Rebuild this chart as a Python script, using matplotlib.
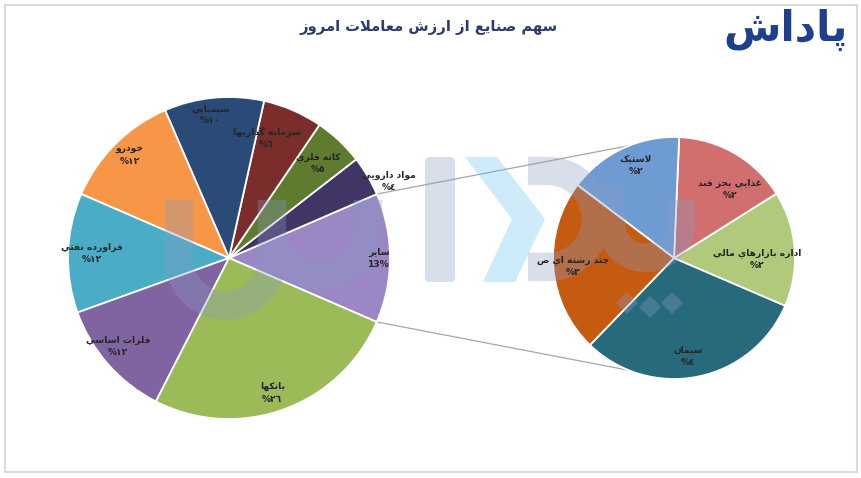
import unicodedata

import numpy as np
import matplotlib
matplotlib.use("Agg")
import matplotlib.pyplot as plt
from matplotlib.patches import Rectangle, PathPatch, Polygon, FancyBboxPatch
from matplotlib.path import Path

# ---- data -------------------------------------------------------------
main_labels = ["سایر", "مواد دارويي", "کانه فلزي", "سرمايه گذاريها", "شيميايي",
               "خودرو", "فراورده نفتي", "فلزات اساسي", "بانکها"]
main_values = [13, 4, 5, 6, 10, 12, 12, 12, 26]

sub_labels = ["سيمان", "اداره بازارهاي مالي", "غذايي بجز قند", "لاستيک", "چند رشته اي ص"]
sub_values = [4, 2, 2, 2, 3]

title = "سهم صنايع از ارزش معاملات امروز"
brand = "پاداش"

# ---- style ------------------------------------------------------------
main_colors = ["#9A87C4", "#403565", "#5E7B2F", "#7A2D2B", "#2A4B77",
               "#F79646", "#4BACC6", "#8064A2", "#9BBB59"]
sub_colors = ["#276A7C", "#B0CA7B", "#D06F6D", "#6E9BD2", "#C55A11"]
# label radius (fraction of pie radius) and angle offset (deg)
main_lab_pos = [(0.93, 0), (1.10, -5), (0.81, 0), (0.78, 6), (0.90, 2),
                (0.89, -1), (0.85, 0), (0.88, -3), (0.88, -2)]
sub_lab_pos = [(0.82, -3), (0.69, -5), (0.73, -9), (0.83, -3), (0.84, 0)]

W, H = 862, 478
MAIN_C, MAIN_R = (229, H - 258), 161
SUB_C, SUB_R = (674, H - 258), 121
SUB_START = -134

# ---- simple arabic shaping (no raqm in matplotlib) --------------------
FORMS = {}
for cp in list(range(0xFB50, 0xFE00)) + list(range(0xFE70, 0xFF00)):
    d = unicodedata.decomposition(chr(cp))
    if not d.startswith("<"):
        continue
    tag, *codes = d.split()
    tag = tag[1:-1]
    if tag not in ("isolated", "final", "initial", "medial"):
        continue
    key = "".join(chr(int(c, 16)) for c in codes)
    FORMS.setdefault(key, {}).setdefault(tag, chr(cp))


def fa(text):
    toks, i = [], 0
    while i < len(text):
        if text[i] == "ل" and i + 1 < len(text) and text[i + 1] == "ا":
            toks.append("لا")
            i += 2
        else:
            toks.append(text[i])
            i += 1

    def is_letter(t):
        return t in FORMS

    def dual(t):
        return t in FORMS and "initial" in FORMS[t]

    out = []
    for k, t in enumerate(toks):
        if not is_letter(t):
            out.append(t)
            continue
        jp = k > 0 and dual(toks[k - 1])
        jn = dual(t) and k + 1 < len(toks) and is_letter(toks[k + 1])
        form = "medial" if jp and jn else "initial" if jn else "final" if jp else "isolated"
        f = FORMS[t]
        out.append(f.get(form, f.get("isolated", t)))
    return "".join(reversed(out))


AR_DIGITS = "٠١٢٣٤٥٦٧٨٩"


def pct(v, arabic=True):
    if not arabic:
        return f"{v}%"
    return "%" + "".join(AR_DIGITS[int(c)] for c in str(v))


plt.rcParams["font.family"] = ["DejaVu Sans"]

fig = plt.figure(figsize=(W / 100, H / 100), dpi=100)
ax = fig.add_axes([0, 0, 1, 1])

main_start = -main_values[0] / sum(main_values) * 360 / 2
wm, _ = ax.pie(main_values, colors=main_colors, startangle=main_start, counterclock=True,
               radius=MAIN_R, center=MAIN_C,
               wedgeprops=dict(edgecolor="white", linewidth=1.3))
ws, _ = ax.pie(sub_values, colors=sub_colors, startangle=SUB_START, counterclock=True,
               radius=SUB_R, center=SUB_C,
               wedgeprops=dict(edgecolor="white", linewidth=1.3))

ax.set_xlim(0, W)
ax.set_ylim(0, H)
ax.set_aspect("equal")
ax.axis("off")

# connector lines from "other" slice to secondary pie
o = wm[0]
for th, sy in [(o.theta2, 1), (o.theta1, -1)]:
    x0 = MAIN_C[0] + MAIN_R * np.cos(np.radians(th))
    y0 = MAIN_C[1] + MAIN_R * np.sin(np.radians(th))
    ax.plot([x0, SUB_C[0]], [y0, SUB_C[1] + sy * SUB_R], color="#A6A6A6", lw=0.9, zorder=0.5)


# ---- watermark ----------------------------------------------------------
def P(x, y):
    return (x, H - y)


wm_col, wm_alpha = "#8A9CC2", 0.33


def u_path(xl, xr, ytop_l, ytop_r, yc):
    r = (xr - xl) / 2
    cx = (xl + xr) / 2
    t = np.linspace(np.pi, 2 * np.pi, 30)
    arc = [P(cx + r * np.cos(a), yc - r * np.sin(a)) for a in t]
    return [P(xl, ytop_l)] + arc + [P(xr, ytop_r)]


verts, codes = [], []
for seg in [u_path(179, 272, 200, 200, 259), u_path(272, 368, 228, 200, 228),
            u_path(611, 681, 185, 200, 223)]:
    verts += seg
    codes += [Path.MOVETO] + [Path.LINETO] * (len(seg) - 1)
# D bracket around chevron
t = np.linspace(np.pi / 2, -np.pi / 2, 30)
dseg = [P(528, 171)] + [P(548 + 48 * np.cos(a), 219 - 48 * np.sin(a)) for a in t] + [P(528, 267)]
verts += dseg
codes += [Path.MOVETO] + [Path.LINETO] * (len(dseg) - 1)
ax.add_patch(PathPatch(Path(verts, codes), fill=False, edgecolor=wm_col, alpha=wm_alpha,
                       lw=20.5, capstyle="butt", joinstyle="round", zorder=3))
ax.add_patch(FancyBboxPatch(P(425, 282), 30, 125, boxstyle="round,pad=0,rounding_size=5",
                            facecolor=wm_col, edgecolor="none", alpha=wm_alpha, zorder=3))
ax.add_patch(Polygon([P(465, 157), P(497, 157), P(545, 219), P(515, 282), P(483, 282), P(512, 219)],
                     closed=True, facecolor="#5BC0E8", edgecolor="none", alpha=0.3, zorder=3))
for dx, dy in [(627, 303), (650, 307), (672, 303)]:
    cx, cy = P(dx, dy)
    ax.add_patch(Polygon([(cx - 11, cy), (cx, cy + 11), (cx + 11, cy), (cx, cy - 11)],
                         closed=True, facecolor=wm_col, edgecolor="none", alpha=wm_alpha, zorder=3))


# ---- labels -----------------------------------------------------------
def put_labels(wedges, labels, values, center, radius, pos, latin_first=False):
    for k, (w, lab, v, (fr, da)) in enumerate(zip(wedges, labels, values, pos)):
        a = np.radians((w.theta1 + w.theta2) / 2 + da)
        x = center[0] + radius * fr * np.cos(a)
        y = center[1] + radius * fr * np.sin(a)
        p = pct(v, arabic=not (latin_first and k == 0))
        ax.text(x, y, fa(lab) + "\n" + p, ha="center", va="center", fontsize=6.6,
                fontweight="bold", color="#262626", linespacing=1.45, zorder=5)


put_labels(wm, main_labels, main_values, MAIN_C, MAIN_R, main_lab_pos, latin_first=True)
put_labels(ws, sub_labels, sub_values, SUB_C, SUB_R, sub_lab_pos)

ax.text(429, H - 27, fa(title), ha="center", va="center", fontsize=10.6,
        fontweight="bold", color="#2C3B6B")
ax.text(786, H - 30, fa(brand), ha="center", va="center", fontsize=30,
        fontweight="bold", color="#1E3F8E")

ax.add_patch(Rectangle((5, H - 472), 852, 467, fill=False, edgecolor="#DADADA", lw=1.5, zorder=0))

fig.savefig("out.png", dpi=100, facecolor="white")
